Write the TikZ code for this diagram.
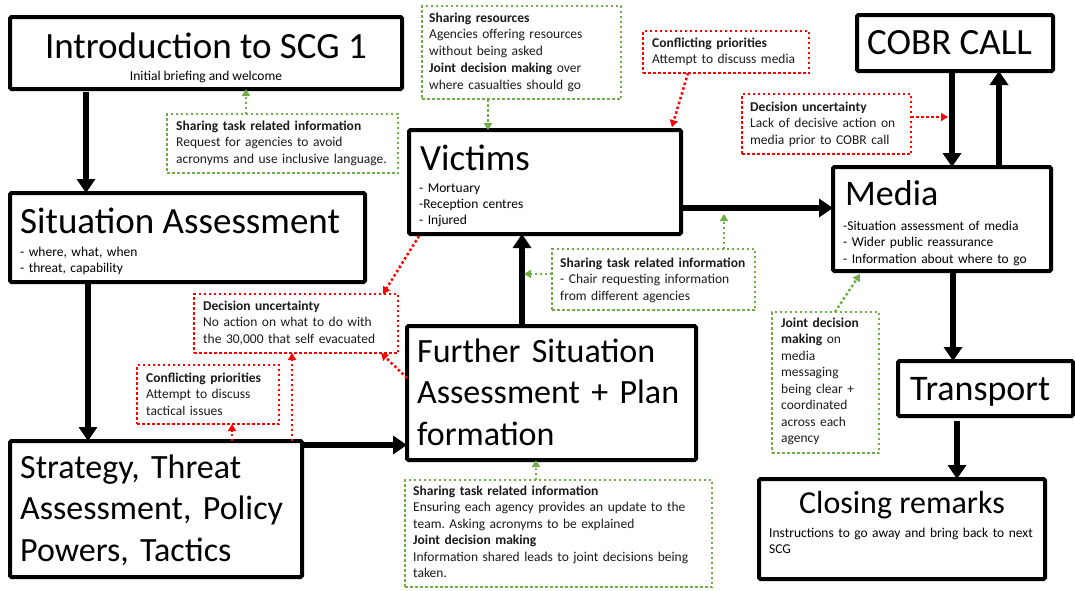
\documentclass[tikz,border=0pt]{standalone}
\usepackage{fontspec}
\setmainfont{Carlito}
\usetikzlibrary{arrows.meta}
\definecolor{grn}{HTML}{70AD47}
\definecolor{rd}{HTML}{FF0000}
\definecolor{txt}{HTML}{1A1A1A}
\frenchspacing
\tikzset{
  box/.style={draw=black, line width=4pt, rounded corners=1.5pt, inner sep=0pt, outer sep=0pt},
  note/.style={line width=2.5pt, dash pattern=on 2.5pt off 2.5pt, inner sep=0pt, outer sep=0pt},
  gnote/.style={note, draw=grn},
  rnote/.style={note, draw=rd},
  flow/.style={line width=5.5pt, -{Triangle[length=14pt,width=18pt]}},
  glink/.style={draw=grn, line width=2.5pt, dash pattern=on 2.5pt off 2.5pt, -{Triangle[length=7pt,width=8pt]}},
  rlink/.style={draw=rd, line width=2.5pt, dash pattern=on 2.5pt off 2.5pt, -{Triangle[length=7pt,width=8pt]}},
  bigtxt/.style={font=\fontsize{37}{44}\selectfont, anchor=base west, inner sep=0pt},
  midtxt/.style={font=\fontsize{34}{41.5}\selectfont, anchor=base west, inner sep=0pt, text width=300pt},
  smalltxt/.style={font=\fontsize{13.5}{16.5}\selectfont, anchor=base west, inner sep=0pt, text width=320pt},
  notetxt/.style={font=\fontsize{13.5}{16.5}\selectfont, text=txt, anchor=base west, inner sep=0pt, text width=320pt},
}
\begin{document}
\begin{tikzpicture}[x=1pt, y=-1pt]
\useasboundingbox (0,0) rectangle (1075,590);

% ---- main boxes ----
\node[box, minimum width=392pt, minimum height=72pt] (intro) at (206,53) {};
\node[box, minimum width=355pt, minimum height=89pt] (sit) at (187.5,237.5) {};
\node[box, minimum width=292pt, minimum height=136pt] (strat) at (156,509) {};
\node[box, minimum width=272pt, minimum height=104pt] (vic) at (545,182) {};
\node[box, minimum width=289pt, minimum height=134pt] (fur) at (551.5,393) {};
\node[box, minimum width=196pt, minimum height=56pt] (cobr) at (955,43) {};
\node[box, minimum width=218pt, minimum height=104pt] (media) at (942,219) {};
\node[box, minimum width=175pt, minimum height=55pt] (trans) at (985.5,388.5) {};
\node[box, minimum width=286pt, minimum height=100pt] (close) at (902,529) {};

% ---- main box texts ----
\node[bigtxt, anchor=base] (introT) at (206,58) {Introduction to SCG 1};
\node[font=\fontsize{13.5}{16.5}\selectfont, anchor=base, inner sep=0pt] (introS) at (206,80) {Initial briefing and welcome};
\node[bigtxt] (sitT) at (20,233) {Situation Assessment};
\node[smalltxt] (sitS) at (20,256) {- where, what, when\\- threat, capability};
\node[midtxt] (stratT) at (20,478) {Strategy, Threat\\Assessment, Policy\\Powers, Tactics};
\node[bigtxt] (vicT) at (420,170) {Victims};
\node[smalltxt, font=\fontsize{13.5}{16}\selectfont] (vicS) at (419,192) {- Mortuary\\-Reception centres\\- Injured};
\node[midtxt] (furT) at (417,362) {Further Situation\\Assessment + Plan\\formation};
\node[bigtxt] (cobrT) at (867,54) {COBR CALL};
\node[bigtxt, font=\fontsize{36}{43}\selectfont] (mediaT) at (845,205) {Media};
\node[smalltxt] (mediaS) at (843,230) {-Situation assessment of media\\- Wider public reassurance\\- Information about where to go};
\node[bigtxt, font=\fontsize{36}{43}\selectfont] (transT) at (910,400) {Transport};
\node[bigtxt, font=\fontsize{32}{38}\selectfont, anchor=base] (closeT) at (902,513) {Closing remarks};
\node[smalltxt, font=\fontsize{13.5}{16}\selectfont] (closeS) at (769,537) {Instructions to go away and bring back to next\\SCG};

% ---- annotation boxes ----
\node[gnote, minimum width=231pt, minimum height=59pt] (na) at (282.5,143.5) {};
\node[gnote, minimum width=199pt, minimum height=93pt] (nb) at (521.5,52.5) {};
\node[gnote, minimum width=203pt, minimum height=61pt] (nc) at (653.5,279.5) {};
\node[gnote, minimum width=107pt, minimum height=141pt] (nd) at (825.5,382.5) {};
\node[gnote, minimum width=307pt, minimum height=107pt] (ne) at (558.5,533.5) {};
\node[rnote, minimum width=166pt, minimum height=42pt] (nf) at (726,52) {};
\node[rnote, minimum width=169pt, minimum height=60pt] (ng) at (826.5,124) {};
\node[rnote, minimum width=204pt, minimum height=59pt] (nh) at (296,323.5) {};
\node[rnote, minimum width=142pt, minimum height=59pt] (ni) at (208,394.5) {};

% ---- annotation texts ----
\node[notetxt] (naT) at (176,130) {\textbf{Sharing task related information}\\Request for agencies to avoid\\acronyms and use inclusive language.};
\node[notetxt, font=\fontsize{13.5}{16.8}\selectfont] (nbT) at (429,22) {\textbf{Sharing resources}\\Agencies offering resources\\without being asked\\\textbf{Joint decision making} over\\where casualties should go};
\node[notetxt] (ncT) at (560,267) {\textbf{Sharing task related information}\\- Chair requesting information\\from different agencies};
\node[notetxt] (ndT) at (781,327) {\textbf{Joint decision}\\\textbf{making} on\\media\\messaging\\being clear +\\coordinated\\across each\\agency};
\node[notetxt] (neT) at (413,495) {\textbf{Sharing task related information}\\Ensuring each agency provides an update to the\\team. Asking acronyms to be explained\\\textbf{Joint decision making}\\Information shared leads to joint decisions being\\taken.};
\node[notetxt] (nfT) at (652,47) {\textbf{Conflicting priorities}\\Attempt to discuss media};
\node[notetxt] (ngT) at (750,111) {\textbf{Decision uncertainty}\\Lack of decisive action on\\media prior to COBR call};
\node[notetxt] (nhT) at (203,310) {\textbf{Decision uncertainty}\\No action on what to do with\\the 30,000 that self evacuated};
\node[notetxt] (niT) at (146,382) {\textbf{Conflicting priorities}\\Attempt to discuss\\tactical issues};

% ---- main flow arrows ----
\draw[flow, shorten <=3pt] ([xshift=-120pt]intro.south) -- ([xshift=-101.5pt]sit.north);
\draw[flow] ([xshift=-99.5pt]sit.south) -- ([xshift=-68pt]strat.north);
\draw[flow] ([yshift=64pt]strat.east) -- ([yshift=-52pt]fur.west);
\draw[flow] ([xshift=-29.5pt]fur.north) -- ([xshift=-23pt]vic.south);
\draw[flow] ([yshift=-26pt]vic.east) -- ([yshift=11pt]media.west);
\draw[flow] ([xshift=-3pt]cobr.south) -- ([xshift=10pt]media.north);
\draw[flow] ([xshift=57pt]media.north) -- ([xshift=44pt]cobr.south);
\draw[flow] ([xshift=11pt]media.south) -- ([xshift=-32.5pt]trans.north);
\draw[flow, shorten <=5pt] ([xshift=-28.5pt]trans.south) -- ([xshift=55pt]close.north);

% ---- annotation connectors ----
\coordinate (cEndA) at (524,274);
\coordinate (cEndB) at (724,214);
\coordinate (gEnd) at (948,117);
\draw[glink] ([xshift=-36.5pt]na.north) -- ([xshift=40pt]intro.south);
\draw[glink] ([xshift=-33.5pt]nb.south) -- ([xshift=-57pt]vic.north);
\draw[glink] ([yshift=5.5pt]nc.west) -- (cEndA);
\draw[glink] ([xshift=70.5pt]nc.north) -- (cEndB);
\draw[glink] ([xshift=9.5pt]nd.north) -- ([xshift=-82pt,yshift=-3pt]media.south);
\draw[glink] ([xshift=-22.5pt]ne.north) -- ([xshift=-15.5pt]fur.south);
\draw[rlink, shorten >=3pt] ([xshift=-38pt]nf.south) -- ([xshift=126pt]vic.north);
\draw[rlink] ([yshift=7pt]ng.east) -- (gEnd);
\draw[rlink] ([xshift=-126pt,yshift=-2pt]vic.south) -- ([xshift=87pt]nh.north);
\draw[rlink] ([yshift=15pt]fur.west) -- ([xshift=-17pt]nh.south east);
\draw[rlink] ([xshift=136pt]strat.north) -- ([xshift=-4pt]nh.south);
\draw[rlink] ([xshift=76pt]strat.north) -- ([xshift=24pt]ni.south);
\end{tikzpicture}
\end{document}
